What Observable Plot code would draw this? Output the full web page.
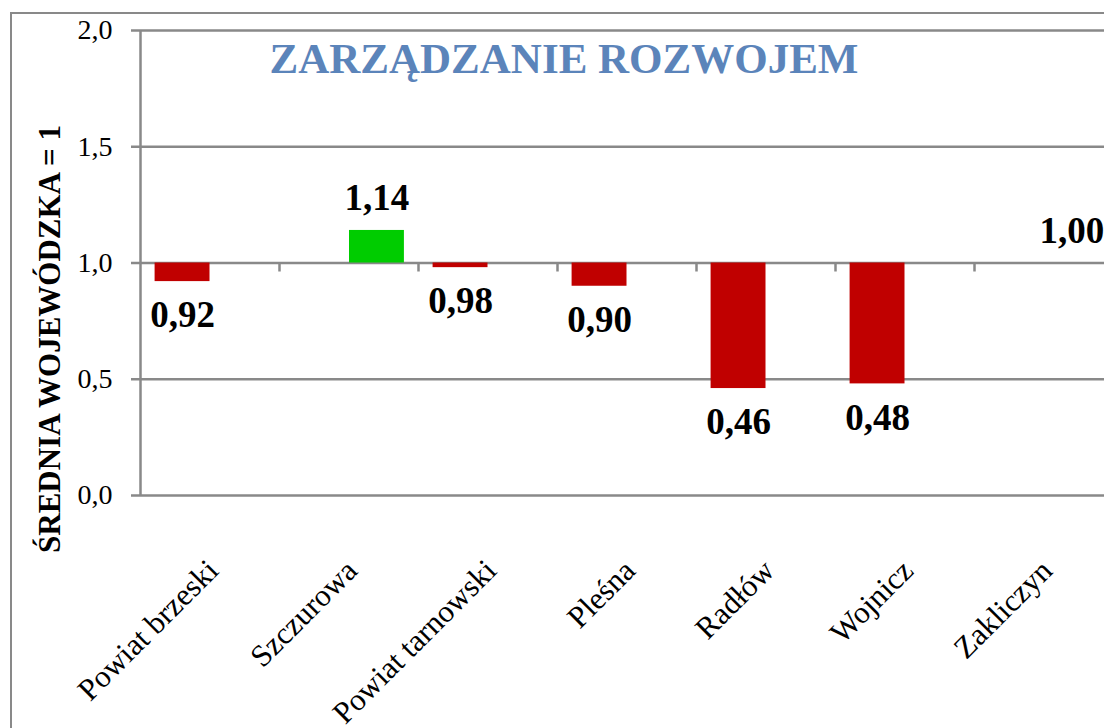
<!DOCTYPE html>
<html>
<head>
<meta charset="utf-8">
<script src="https://cdn.jsdelivr.net/npm/d3@7"></script>
<script src="https://cdn.jsdelivr.net/npm/@observablehq/plot@0.6"></script>
<style>
  html, body { margin: 0; padding: 0; overflow: hidden; background: #fff; }
  #wrap { position: relative; width: 1104px; height: 728px; overflow: hidden; font-family: "Liberation Serif", "Times New Roman", serif; }
  #border { position: absolute; left: 10px; top: 12px; width: 1200px; height: 800px; border: 2.5px solid #898989; box-sizing: border-box; }
  #chart { position: absolute; left: 0; top: 0; }
  #title { position: absolute; left: 564px; top: 37px; transform: translateX(-50%); font-size: 43px; line-height: 1; font-weight: bold; color: #5b84ba; white-space: nowrap; }
  #ytitle { position: absolute; left: 49px; top: 339px; transform: translate(-50%, -50%) rotate(-90deg); font-family: "Liberation Serif", serif; font-size: 31px; line-height: 1; font-weight: bold; color: #000; white-space: nowrap; }
</style>
</head>
<body>
<div id="wrap">
  <div id="border"></div>
  <div id="chart"></div>
  <div id="title">ZARZĄDZANIE ROZWOJEM</div>
  <div id="ytitle">ŚREDNIA WOJEWÓDZKA = 1</div>
</div>
<script>
// ---- data ----
const categories = ["Powiat brzeski", "Szczurowa", "Powiat tarnowski", "Pleśna", "Radłów", "Wojnicz", "Zakliczyn"];
const values = [0.92, 1.14, 0.98, 0.90, 0.46, 0.48, 1.00];
const valueLabels = ["0,92", "1,14", "0,98", "0,90", "0,46", "0,48", "1,00"];
const yTicks = [0, 0.5, 1, 1.5, 2];
const yTickLabels = ["0,0", "0,5", "1,0", "1,5", "2,0"];
const baseline = 1; // średnia wojewódzka

// ---- layout ----
const W = 1104, H = 728;
const mL = 140, mR = -9, mT = 30, mB = 233;
const step = (W - mL - mR) / categories.length;
const gap = step * 0.105;
const barW = (step - 2 * gap) / 2;
const gridColor = "#898989";

const rows = categories.map((c, i) => ({cat: c, value: values[i], label: valueLabels[i], below: values[i] < baseline}));
const redRows = rows.filter(d => d.below);
const greenRows = rows.filter(d => !d.below);

const chart = Plot.plot({
  width: W, height: H,
  marginLeft: mL, marginRight: mR, marginTop: mT, marginBottom: mB,
  style: {fontFamily: "'Liberation Serif', 'Times New Roman', serif", color: "#000", background: "transparent", overflow: "visible"},
  x: {type: "band", domain: categories, padding: 0, axis: null, label: null},
  y: {domain: [0, 2], axis: null, label: null},
  marks: [
    // horizontal gridlines (extend left as tick marks)
    Plot.ruleY(yTicks, {stroke: gridColor, strokeWidth: 2.5, insetLeft: -9}),
    // vertical value axis line
    Plot.ruleX([categories[0]], {dx: -step / 2, stroke: gridColor, strokeWidth: 2.5}),
    // category boundary ticks on the baseline (axis crosses at 1,0)
    Plot.ruleX(categories.slice(1), {dx: -step / 2, y1: baseline, y2: baseline, insetBottom: -9, stroke: gridColor, strokeWidth: 2.5}),
    // bars below average (left slot)
    Plot.barY(redRows, {x: "cat", y1: baseline, y2: "value", fill: "#c00000", insetLeft: gap, insetRight: step - gap - barW}),
    // bars above average (right slot)
    Plot.barY(greenRows, {x: "cat", y1: baseline, y2: "value", fill: "#00cc00", insetLeft: step / 2 + 0.5, insetRight: gap - 0.5}),
    // value labels
    Plot.text(redRows, {x: "cat", y: "value", text: "label", dx: -(step / 2 - gap - barW / 2), dy: 34, fontSize: 37, fontWeight: "bold", fill: "#000"}),
    Plot.text(greenRows, {x: "cat", y: "value", text: "label", dx: barW / 2 + 0.5, dy: -32, fontSize: 37, fontWeight: "bold", fill: "#000"}),
    // axes
    Plot.axisY({ticks: yTicks, tickSize: 0, tickPadding: 28, tickFormat: d => yTickLabels[yTicks.indexOf(d)], fontSize: 28, fill: "#000", label: null}),
    Plot.axisX({tickRotate: -45, tickSize: 0, tickPadding: 70, dx: 3, fontSize: 31, fill: "#000", label: null})
  ]
});
document.getElementById("chart").appendChild(chart);
</script>
</body>
</html>
